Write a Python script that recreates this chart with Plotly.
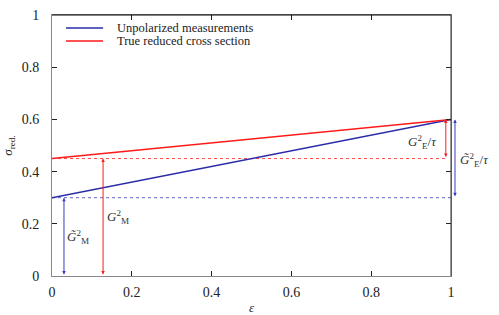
import plotly.graph_objects as go

eps = [0, 1]
unpolarized = [0.3, 0.6]
true_red = [0.45, 0.6]
gm_tilde = 0.3
gm = 0.45
top = 0.6
x_ticks = [0, 0.2, 0.4, 0.6, 0.8, 1]
x_ticklabels = ["0", "0.2", "0.4", "0.6", "0.8", "1"]
y_ticks = [0, 0.2, 0.4, 0.6, 0.8, 1]
y_ticklabels = ["0", "0.2", "0.4", "0.6", "0.8", "1"]
series_names = ["Unpolarized measurements", "True reduced cross section"]

BLUE = "#2b2ba8"
BLUE_A = "#3a3ac0"
RED = "#ff1a1a"
FONT = "Liberation Serif"

W, H = 499, 315
ML, MR, MT, MB = 52, 48, 15, 39
PH = H - MT - MB  # plot height in px

fig = go.Figure()
fig.add_trace(go.Scatter(x=[eps[0], eps[1]], y=[gm_tilde, gm_tilde], mode="lines",
                         line=dict(color=BLUE_A, width=0.8, dash="3px,3px"), showlegend=False))
fig.add_trace(go.Scatter(x=[eps[0], 0.987], y=[gm, gm], mode="lines",
                         line=dict(color=RED, width=0.8, dash="3px,3px"), showlegend=False))
fig.add_trace(go.Scatter(x=eps, y=unpolarized, mode="lines", name=series_names[0],
                         line=dict(color=BLUE, width=1.5), showlegend=False))
fig.add_trace(go.Scatter(x=eps, y=true_red, mode="lines", name=series_names[1],
                         line=dict(color=RED, width=1.5), showlegend=False))

# compact legend (gnuplot style)
for i, (name, col) in enumerate(zip(series_names, [BLUE, RED])):
    yy = 0.95 - 0.05 * i
    fig.add_shape(type="line", xref="paper", yref="paper", x0=0.035, x1=0.128, y0=yy, y1=yy,
                  line=dict(color=col, width=1.5))
    fig.add_annotation(x=0.157, y=yy, xref="paper", yref="paper", text=name, showarrow=False,
                       xanchor="left", yanchor="middle",
                       font=dict(family=FONT, size=12.5, color="#222"))

def darrow(x, y0, y1, color):
    # axis ranges are [0,1] so paper coords coincide with data coords
    fig.add_annotation(x=x, y=y1, ax=0, ay=(y1 - y0) * PH, xref="paper", yref="paper",
                       axref="pixel", ayref="pixel",
                       showarrow=True, arrowhead=2, startarrowhead=2, arrowside="end+start",
                       arrowsize=0.7, startarrowsize=0.7, arrowwidth=1, arrowcolor=color, text="")

darrow(0.03, 0, gm_tilde, BLUE_A)
darrow(0.128, 0, gm, RED)
darrow(0.987, gm, top, RED)
darrow(1.01, gm_tilde, top, BLUE_A)

lab = dict(showarrow=False, font=dict(family=FONT, size=13, color="#333"), xref="paper", yref="paper")
fig.add_annotation(x=0.033, y=0.108, text="<i>G\u0303</i><sup>2</sup><sub>M</sub>", **lab)
fig.add_annotation(x=0.133, y=0.184, text="<i>G</i><sup>2</sup><sub>M</sub>", **lab)
fig.add_annotation(x=0.97, y=0.513, text="<i>G</i><sup>2</sup><sub>E</sub>/<i>τ</i>", **lab)
fig.add_annotation(x=1.1, y=0.445, text="<i>G\u0303</i><sup>2</sup><sub>E</sub>/<i>τ</i>", **lab)

# top and right frame
fig.add_shape(type="line", xref="paper", yref="paper", x0=0, x1=1, y0=1, y1=1,
              line=dict(color="black", width=1))
fig.add_shape(type="line", xref="paper", yref="paper", x0=1, x1=1, y0=0, y1=1,
              line=dict(color="#333", width=1))

fig.update_layout(
    width=W, height=H,
    margin=dict(l=ML, r=MR, t=MT, b=MB, autoexpand=False),
    plot_bgcolor="white", paper_bgcolor="white",
    font=dict(family=FONT, size=14, color="#222"),
    showlegend=False,
    xaxis=dict(range=[0, 1], tickvals=x_ticks, ticktext=x_ticklabels, ticks="inside",
               ticklen=5, tickcolor="#222", showgrid=False, zeroline=False, showline=True,
               linecolor="#888", linewidth=1, mirror="ticks", automargin=False,
               ticklabelstandoff=3, tickfont=dict(family=FONT, size=14),
               title=dict(text="<i>ε</i>", font=dict(family=FONT, size=13), standoff=6)),
    yaxis=dict(range=[0, 1], tickvals=y_ticks, ticktext=y_ticklabels, ticks="inside",
               ticklen=5, tickcolor="#222", showgrid=False, zeroline=False, showline=True,
               linecolor="#888", linewidth=1, mirror="ticks", automargin=False,
               ticklabelstandoff=9, tickfont=dict(family=FONT, size=14),
               title=dict(text="<i>σ</i><sub>red.</sub>", font=dict(family=FONT, size=13), standoff=12)),
)

fig.write_html("out.html", config={"displayModeBar": False},
               post_script="document.body.style.margin='0';")
